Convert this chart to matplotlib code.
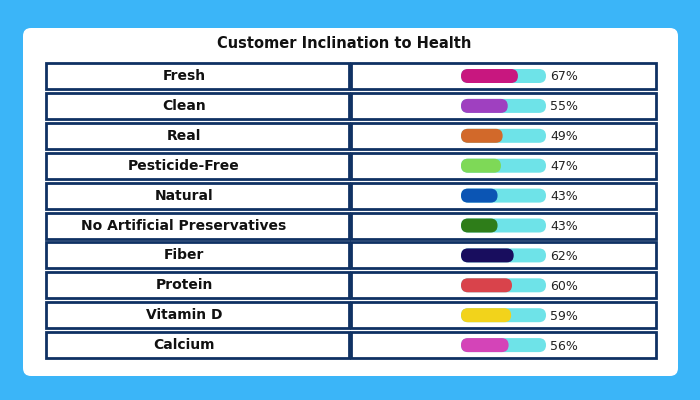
import matplotlib.pyplot as plt
from matplotlib.patches import FancyBboxPatch, Rectangle

categories = ['Fresh', 'Clean', 'Real', 'Pesticide-Free', 'Natural',
              'No Artificial Preservatives', 'Fiber', 'Protein', 'Vitamin D', 'Calcium']
values = [67, 55, 49, 47, 43, 43, 62, 60, 59, 56]
bar_colors = ['#c8177f', '#9f40c0', '#d2692a', '#7ed957', '#0b55b4',
              '#2e7d19', '#180d5e', '#d9434b', '#f2d31b', '#d444b8']

NAVY = '#0f3163'
TRACK = '#6ee3e8'

fig = plt.figure(figsize=(7, 4), dpi=100)
fig.patch.set_facecolor('#3bb5f8')
ax = fig.add_axes([0, 0, 1, 1])
ax.set_xlim(0, 700)
ax.set_ylim(400, 0)
ax.axis('off')

# white card
ax.add_patch(FancyBboxPatch((23, 28), 655, 348, boxstyle='round,pad=0,rounding_size=8',
                            facecolor='white', edgecolor='none'))
ax.text(344, 44, 'Customer Inclination to Health', ha='center', va='center',
        fontsize=10.5, fontweight='bold', color='#111111')

y0, step, h = 76, 29.9, 26
bx, bw, bh = 461, 85, 14
for i, (cat, val, col) in enumerate(zip(categories, values, bar_colors)):
    yc = y0 + i * step
    ax.add_patch(Rectangle((46, yc - h / 2), 303, h, facecolor='white', edgecolor=NAVY, lw=2))
    ax.add_patch(Rectangle((351, yc - h / 2), 305, h, facecolor='white', edgecolor=NAVY, lw=2))
    ax.text(184, yc, cat, ha='center', va='center', fontsize=10, fontweight='bold', color='#111111')
    ax.add_patch(FancyBboxPatch((bx, yc - bh / 2), bw, bh,
                                boxstyle=f'round,pad=0,rounding_size={bh/2}',
                                facecolor=TRACK, edgecolor='none'))
    ax.add_patch(FancyBboxPatch((bx, yc - bh / 2), bw * val / 100, bh,
                                boxstyle=f'round,pad=0,rounding_size={bh/2}',
                                facecolor=col, edgecolor='none'))
    ax.text(bx + bw + 4, yc + 1, f'{val}%', ha='left', va='center', fontsize=9, color='#222222')

fig.savefig('out.png', dpi=100)
